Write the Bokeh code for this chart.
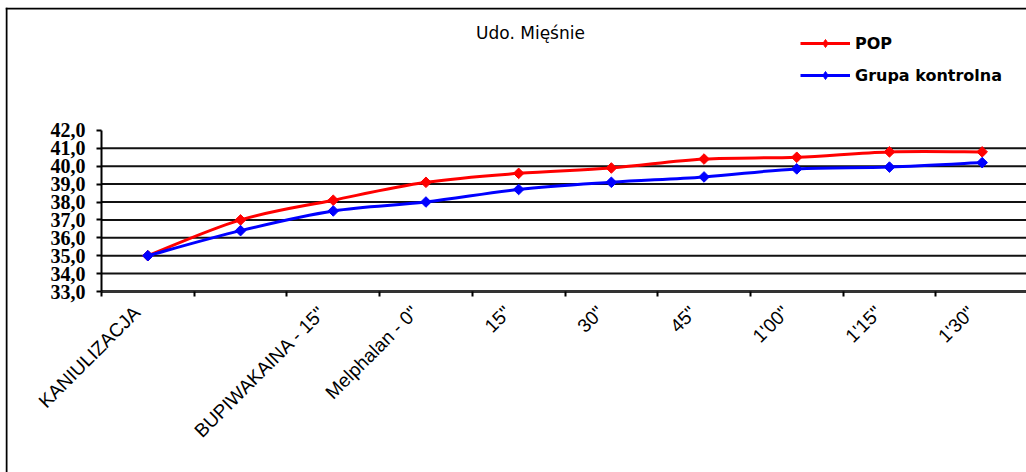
import numpy as np
from bokeh.plotting import figure
from bokeh.models import (Range1d, LinearAxis, FixedTicker, Legend, LegendItem,
                          Label, Span, ColumnDataSource)
from bokeh.embed import file_html
from bokeh.resources import INLINE

# ---- data -------------------------------------------------------------
title_text = "Udo. Mięśnie"
categories = ['KANIULIZACJA', '', 'BUPIWAKAINA - 15"', 'Melphalan - 0"',
              '15"', '30"', '45"', "1'00\"", "1'15\"", "1'30\""]
pop = [35.0, 37.0, 38.1, 39.1, 39.6, 39.9, 40.4, 40.5, 40.8, 40.8]
kontrolna = [35.0, 36.4, 37.5, 38.0, 38.7, 39.1, 39.4, 39.85, 39.95, 40.2]
series_names = ["POP", "Grupa kontrolna"]
series_colors = ["#FF0000", "#0000FF"]
y_ticks = [33.0, 34.0, 35.0, 36.0, 37.0, 38.0, 39.0, 40.0, 41.0, 42.0]

# ---- page geometry (pixels) --------------------------------------------
W, H = 1026, 472
FRAME_L, FRAME_T = 5, 7          # chart-area border
AX_X, AX_Y = 101, 291            # where the two axes cross
CAT_W = 92.7                     # width of one category
UNIT_H = 17.9                    # height of one degree
LABEL_SHIFT = 11                 # category labels sit a little left of centre

x_start = -(AX_X - FRAME_L) / CAT_W
x_end = x_start + (W - FRAME_L) / CAT_W
y_start = y_ticks[0] - (H - AX_Y) / UNIT_H
y_end = y_ticks[0] + (AX_Y - FRAME_T) / UNIT_H

n = len(categories)
x_centers = [i + 0.5 for i in range(n)]
label_pos = [c - LABEL_SHIFT / CAT_W for c in x_centers]

p = figure(width=W, height=H,
           x_range=Range1d(x_start, x_end), y_range=Range1d(y_start, y_end),
           output_backend="svg", toolbar_location=None,
           x_axis_location=None, y_axis_location=None,
           min_border_left=FRAME_L, min_border_top=FRAME_T,
           min_border_right=0, min_border_bottom=0,
           outline_line_color=None,
           background_fill_color="white", border_fill_color="white")
for g in p.grid:
    g.visible = False

# chart-area border (top and left edges)
p.add_layout(Span(location=y_end - 1.0 / UNIT_H, dimension="width",
                  line_color="black", line_width=2))
p.add_layout(Span(location=x_start + 1.0 / CAT_W, dimension="height",
                  line_color="black", line_width=2))

# horizontal grid lines between the axis minimum and maximum
grid_vals = y_ticks[1:-1]
p.segment(x0=[0] * len(grid_vals), x1=[n] * len(grid_vals),
          y0=grid_vals, y1=grid_vals, line_color="#111111", line_width=2)

# value axis
yaxis = LinearAxis(
    fixed_location=0, bounds=(y_ticks[0], y_ticks[-1]),
    ticker=FixedTicker(ticks=y_ticks, minor_ticks=[]),
    major_label_overrides={v: f"{v:.1f}".replace(".", ",") for v in y_ticks},
    axis_line_color="black", axis_line_width=2,
    major_tick_out=5, major_tick_in=0, major_tick_line_width=2,
    minor_tick_out=0, minor_tick_in=0,
    major_label_standoff=11,
    major_label_text_font="Liberation Serif",
    major_label_text_font_style="bold",
    major_label_text_font_size="20px",
    major_label_text_color="black",
)
p.add_layout(yaxis, "left")

# category axis: ticks between categories, labels near their centres
xaxis = LinearAxis(
    fixed_location=y_ticks[0], bounds=(0, n),
    ticker=FixedTicker(ticks=label_pos, minor_ticks=list(range(n + 1))),
    major_label_overrides=dict(zip(label_pos, categories)),
    major_label_orientation=np.pi / 4,
    axis_line_color="#333333", axis_line_width=3,
    major_tick_out=0, major_tick_in=0,
    minor_tick_out=5, minor_tick_in=0, minor_tick_line_width=2,
    minor_tick_line_color="black",
    major_label_standoff=13,
    major_label_text_font="Liberation Sans",
    major_label_text_font_size="19px",
    major_label_text_color="black",
)
p.add_layout(xaxis, "below")


def smooth_segments(xs, ys, t=1.0 / 6.0):
    """Cubic Bezier pieces through every point (Catmull-Rom style)."""
    px = [xs[0]] + list(xs) + [xs[-1]]
    py = [ys[0]] + list(ys) + [ys[-1]]
    seg = dict(x0=[], y0=[], x1=[], y1=[], cx0=[], cy0=[], cx1=[], cy1=[])
    for i in range(1, len(xs)):
        x0, y0 = px[i - 1], py[i - 1]
        x1, y1 = px[i], py[i]
        x2, y2 = px[i + 1], py[i + 1]
        x3, y3 = px[i + 2], py[i + 2]
        seg["x0"].append(x1); seg["y0"].append(y1)
        seg["x1"].append(x2); seg["y1"].append(y2)
        seg["cx0"].append(x1 + (x2 - x0) * t); seg["cy0"].append(y1 + (y2 - y0) * t)
        seg["cx1"].append(x2 - (x3 - x1) * t); seg["cy1"].append(y2 - (y3 - y1) * t)
    return seg


items = []
for name, vals, col in zip(series_names, [pop, kontrolna], series_colors):
    p.bezier(source=ColumnDataSource(smooth_segments(x_centers, vals)),
             x0="x0", y0="y0", x1="x1", y1="y1",
             cx0="cx0", cy0="cy0", cx1="cx1", cy1="cy1",
             line_color=col, line_width=3)
    # diamond markers: squares turned by 45 degrees
    p.scatter(x=x_centers, y=vals, marker="square", angle=np.pi / 4,
              size=7.5, fill_color=col, line_color=col)
    # legend keys (line sample and diamond, no visible points in the plot)
    key_line = p.line(x=[np.nan], y=[np.nan], line_color=col, line_width=3)
    key_mark = p.scatter(x=[np.nan], y=[np.nan], marker="diamond", size=13,
                         fill_color=col, line_color=col)
    items.append(LegendItem(label=name, renderers=[key_line, key_mark]))

legend = Legend(items=items, location=(795, 387),
                orientation="vertical", padding=0, margin=0,
                spacing=12, glyph_width=50, glyph_height=20,
                label_height=20, label_standoff=5,
                label_text_font="DejaVu Sans", label_text_font_style="bold",
                label_text_font_size="16px", label_text_color="black",
                border_line_color=None, background_fill_alpha=0)
p.add_layout(legend)

p.add_layout(Label(x=525, y=440, x_units="screen", y_units="screen",
                   text=title_text, text_align="center", text_baseline="middle",
                   text_font="DejaVu Sans", text_font_size="17px",
                   text_color="black"))

open("out.html", "w").write(file_html(p, INLINE))
